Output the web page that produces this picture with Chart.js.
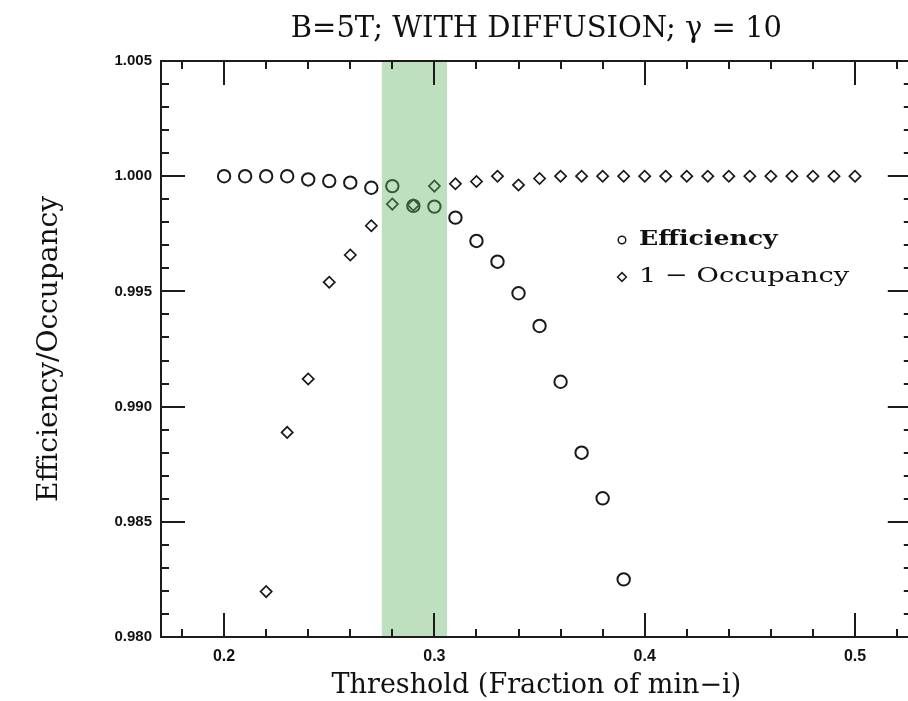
<!DOCTYPE html>
<html>
<head>
<meta charset="utf-8">
<script src="https://cdn.jsdelivr.net/npm/chart.js@4.4.1/dist/chart.umd.min.js"></script>
<style>
  html, body { margin: 0; padding: 0; background: #ffffff; overflow: hidden; }
  #wrap { width: 920px; height: 701px; }
</style>
</head>
<body>
<div id="wrap"><canvas id="c" width="920" height="701"></canvas></div>
<script>
// ---- data ----
const efficiencyX = [0.20, 0.21, 0.22, 0.23, 0.24, 0.25, 0.26, 0.27, 0.28, 0.29,
                     0.30, 0.31, 0.32, 0.33, 0.34, 0.35, 0.36, 0.37, 0.38, 0.39];
const efficiencyY = [1.0000, 1.0000, 1.0000, 1.0000, 0.99986, 0.99979, 0.99972, 0.99950, 0.99957, 0.99871,
                     0.99868, 0.99820, 0.99719, 0.99629, 0.99492, 0.99350, 0.99108, 0.98800, 0.98602, 0.98250];

const occupancyX = [0.22, 0.23, 0.24, 0.25, 0.26, 0.27, 0.28, 0.29, 0.30, 0.31,
                    0.32, 0.33, 0.34, 0.35, 0.36, 0.37, 0.38, 0.39, 0.40, 0.41,
                    0.42, 0.43, 0.44, 0.45, 0.46, 0.47, 0.48, 0.49, 0.50];
const occupancyY = [0.98197, 0.98888, 0.99120, 0.99540, 0.99658, 0.99785, 0.99879, 0.99875, 0.99957, 0.99967,
                    0.99977, 1.00000, 0.99962, 0.99990, 1.00000, 1.00000, 1.00000, 1.00000, 1.00000, 1.00000,
                    1.00000, 1.00000, 1.00000, 1.00000, 1.00000, 1.00000, 1.00000, 1.00000, 1.00000];

const xTickLabels = [0.2, 0.3, 0.4, 0.5];
const yTickLabels = [0.980, 0.985, 0.990, 0.995, 1.000, 1.005];
const shadedBand = [0.275, 0.306];

const seriesLabels = ['Efficiency', '1 \u2212 Occupancy'];
const chartTitle = 'B=5T; WITH DIFFUSION; \u03b3 = 10';
const xTitle = 'Threshold (Fraction of min\u2212i)';
const yTitle = 'Efficiency/Occupancy';

// ---- plugins ----
const frameAndBand = {
  id: 'frameAndBand',
  afterDatasetsDraw(chart) {
    const { ctx, chartArea: a, scales: { x, y } } = chart;
    ctx.save();
    // shaded band (semi-transparent, over the markers)
    const b0 = x.getPixelForValue(shadedBand[0]);
    const b1 = x.getPixelForValue(shadedBand[1]);
    ctx.fillStyle = 'rgba(100,180,100,0.41)';
    ctx.fillRect(b0, a.top, b1 - b0, a.bottom - a.top);

    // frame
    ctx.strokeStyle = '#1c1c1c';
    ctx.lineWidth = 2;
    ctx.strokeRect(a.left, a.top, a.right - a.left, a.bottom - a.top);

    // x ticks (inward, top and bottom): minor every 0.02, major at labels
    ctx.beginPath();
    for (let k = 9; k <= 26; k++) {
      const v = k * 0.02;
      if (v < x.min || v > x.max) continue;
      const major = xTickLabels.some(t => Math.abs(t - v) < 1e-9);
      const len = major ? 24 : 8;
      const px = Math.round(x.getPixelForValue(v));
      ctx.moveTo(px, a.bottom); ctx.lineTo(px, a.bottom - len);
      ctx.moveTo(px, a.top); ctx.lineTo(px, a.top + len);
    }
    // y ticks (inward, left and right): minor every 0.001, major at labels
    for (let k = 980; k <= 1005; k++) {
      const v = k / 1000;
      const major = yTickLabels.some(t => Math.abs(t - v) < 1e-9);
      const len = major ? 24 : 8;
      const py = Math.round(y.getPixelForValue(v));
      ctx.moveTo(a.left, py); ctx.lineTo(a.left + len, py);
      ctx.moveTo(a.right, py); ctx.lineTo(a.right - len, py);
    }
    ctx.stroke();
    ctx.restore();
  }
};

const insideLegend = {
  id: 'insideLegend',
  afterDraw(chart, args, opts) {
    const { ctx } = chart;
    ctx.save();
    chart.data.datasets.forEach((ds, i) => {
      const mx = opts.x, my = opts.y + i * opts.gap;
      ctx.strokeStyle = '#1a1a1a';
      ctx.lineWidth = 1.5;
      ctx.beginPath();
      if (ds.pointStyle === 'circle') {
        ctx.arc(mx, my, 3.8, 0, Math.PI * 2);
      } else {
        const r = 4.4;
        ctx.moveTo(mx - r, my); ctx.lineTo(mx, my - r);
        ctx.lineTo(mx + r, my); ctx.lineTo(mx, my + r); ctx.closePath();
      }
      ctx.stroke();
      ctx.fillStyle = '#111';
      ctx.textBaseline = 'middle';
      ctx.textAlign = 'left';
      ctx.font = (i === 0 ? 'bold ' : '') + opts.fontSize + 'px "DejaVu Serif"';
      ctx.translate(mx + opts.textGap, my);
      ctx.scale(opts.stretch[i], 1);
      ctx.fillText(ds.label, 0, 0);
      ctx.setTransform(1, 0, 0, 1, 0, 0);
    });
    ctx.restore();
  }
};

// ---- chart ----
new Chart(document.getElementById('c').getContext('2d'), {
  type: 'scatter',
  data: {
    datasets: [
      {
        label: seriesLabels[0],
        data: efficiencyX.map((xv, i) => ({ x: xv, y: efficiencyY[i] })),
        pointStyle: 'circle',
        pointRadius: 6.2,
        pointBorderWidth: 2,
        borderColor: '#1a1a1a',
        backgroundColor: 'rgba(0,0,0,0)',
        showLine: false
      },
      {
        label: seriesLabels[1],
        data: occupancyX.map((xv, i) => ({ x: xv, y: occupancyY[i] })),
        pointStyle: 'rectRot',
        pointRadius: 5.6,
        pointBorderWidth: 1.7,
        borderColor: '#1a1a1a',
        backgroundColor: 'rgba(0,0,0,0)',
        showLine: false
      }
    ]
  },
  options: {
    responsive: false,
    animation: false,
    layout: { padding: { left: 0, right: 0, top: 0, bottom: 0 } },
    plugins: {
      legend: { display: false },
      tooltip: { enabled: false },
      title: {
        display: true,
        text: chartTitle,
        fullSize: false,
        color: '#111',
        font: { family: 'DejaVu Serif', size: 29, weight: 'normal', lineHeight: 1.2 },
        padding: { top: 12, bottom: 14.2 }
      },
      insideLegend: { x: 622, y: 240, gap: 37, textGap: 17, fontSize: 21, stretch: [1.2, 1.3] }
    },
    scales: {
      x: {
        type: 'linear',
        min: 0.17,
        max: 0.527,
        grid: { display: false, drawTicks: false },
        border: { display: false },
        afterBuildTicks: s => { s.ticks = xTickLabels.map(v => ({ value: v })); },
        afterFit: s => { s.height = 64; s.paddingLeft = 0; s.paddingRight = 0; },
        ticks: {
          padding: 10,
          color: '#111',
          font: { family: 'Liberation Sans', weight: 'bold', size: 16 },
          callback: v => Number(v).toFixed(1)
        },
        title: {
          display: true,
          text: xTitle,
          color: '#111',
          font: { family: 'DejaVu Serif', size: 27, weight: 'normal', lineHeight: 1.1 },
          padding: { top: 0, bottom: 0 }
        }
      },
      y: {
        type: 'linear',
        min: 0.980,
        max: 1.005,
        grid: { display: false, drawTicks: false },
        border: { display: false },
        afterBuildTicks: s => { s.ticks = yTickLabels.map(v => ({ value: v })); },
        afterFit: s => { s.width = 161; s.paddingTop = 0; s.paddingBottom = 0; },
        ticks: {
          padding: 9,
          color: '#111',
          font: { family: 'Liberation Sans', weight: 'bold', size: 15 },
          callback: v => Number(v).toFixed(3)
        },
        title: {
          display: true,
          text: yTitle,
          color: '#111',
          font: { family: 'DejaVu Serif', size: 28, weight: 'normal', lineHeight: 1.2 },
          padding: { top: 33, bottom: 0 }
        }
      }
    }
  },
  plugins: [frameAndBand, insideLegend]
});
</script>
</body>
</html>
